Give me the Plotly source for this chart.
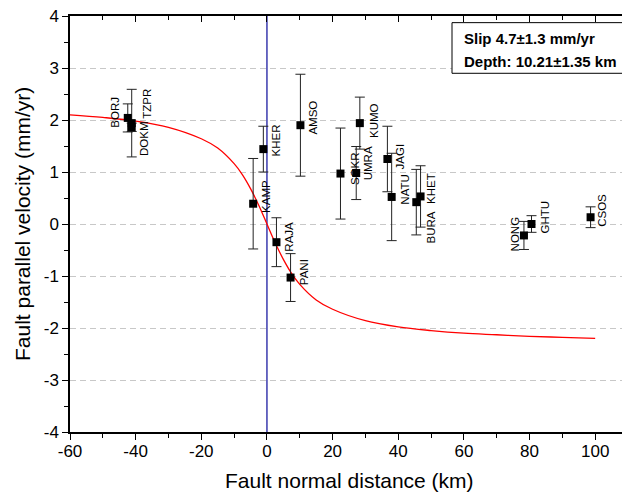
import plotly.graph_objects as go

# ---- data ----
stations = ["BORJ", "TZPR", "DOKM", "KAMP", "KHER", "RAJA", "PANI", "AMSO", "SOKR",
            "UMRA", "KUMO", "JAGI", "NATU", "BURA", "KHET", "NONG", "GHTU", "CSOS"]
distance = [-42.4, -41.2, -41.2, -4.2, -1.1, 2.9, 7.2, 10.2, 22.4,
            27.2, 28.3, 36.7, 38.0, 45.5, 46.8, 78.3, 80.6, 98.6]
velocity = [2.04, 1.94, 1.86, 0.39, 1.44, -0.35, -1.03, 1.90, 0.97,
            0.98, 1.94, 1.25, 0.52, 0.42, 0.53, -0.22, 0.00, 0.13]
vel_err = [0.27, 0.65, 0.08, 0.87, 0.44, 0.47, 0.46, 0.98, 0.875,
           0.51, 0.50, 0.63, 0.84, 0.63, 0.59, 0.27, 0.16, 0.20]

# model curve
model_x = [-60, -50, -40, -30, -20, -15, -10, -7.5, -5, -2.5, 0, 2.5, 5, 7.5, 10,
           15, 20, 30, 40, 50, 60, 70, 80, 90, 100]
model_v = [2.10, 2.05, 1.98, 1.86, 1.64, 1.46, 1.16, 0.95, 0.68, 0.36, 0.0, -0.36, -0.68,
           -0.95, -1.16, -1.46, -1.64, -1.86, -1.98, -2.05, -2.10, -2.13, -2.16, -2.18, -2.20]

fault_x = [0, 0]
fault_y = [-4, 4]

x_ticks = [-60, -40, -20, 0, 20, 40, 60, 80, 100]
x_tick_labels = ["-60", "-40", "-20", "0", "20", "40", "60", "80", "100"]
y_ticks = [-4, -3, -2, -1, 0, 1, 2, 3, 4]
y_tick_labels = ["-4", "-3", "-2", "-1", "0", "1", "2", "3", "4"]

x_title = "Fault normal distance (km)"
y_title = "Fault parallel velocity (mm/yr)"
box_lines = ["Slip 4.7\u00b11.3 mm/yr", "Depth: 10.21\u00b11.35 km"]

# label offsets (px): style only
label_off = {
    "BORJ": (-13, -6), "TZPR": (15, -19), "DOKM": (13, 11), "KAMP": (13, -7),
    "KHER": (13, -9), "RAJA": (13, -6), "PANI": (13, -5), "AMSO": (13, -8),
    "SOKR": (14, -5), "UMRA": (12, -10), "KUMO": (14, -3), "JAGI": (13, -3),
    "NATU": (13, -7), "BURA": (15, 25), "KHET": (11, -8), "NONG": (-9, -2),
    "GHTU": (13, -7), "CSOS": (12, -7),
}

FONT = "Liberation Sans, Arial, sans-serif"

fig = go.Figure()

fig.add_trace(go.Scatter(x=fault_x, y=fault_y, mode="lines",
                         line=dict(color="#3a3aae", width=1.5), hoverinfo="skip"))
fig.add_trace(go.Scatter(x=model_x, y=model_v, mode="lines", line_shape="spline",
                         line=dict(color="#ff0000", width=1.3), hoverinfo="skip"))
fig.add_trace(go.Scatter(
    x=distance, y=velocity, mode="markers",
    marker=dict(symbol="square", size=8, color="black"),
    error_y=dict(type="data", array=vel_err, visible=True, color="#222222",
                 thickness=1, width=5),
))

# dummy trace for mirrored top/right axes
fig.add_trace(go.Scatter(x=[None], y=[None], xaxis="x2", yaxis="y2",
                         showlegend=False, hoverinfo="skip"))

annotations = []
for n, xv, yv in zip(stations, distance, velocity):
    dx, dy = label_off[n]
    annotations.append(dict(x=xv, y=yv, xref="x", yref="y", text=n, showarrow=False,
                            textangle=-90, xshift=dx, yshift=-dy,
                            font=dict(family=FONT, size=11.5, color="black")))

# axis titles
annotations.append(dict(x=0.5, y=0, xref="paper", yref="paper", text=x_title,
                        showarrow=False, yanchor="middle", yshift=-48,
                        font=dict(family=FONT, size=21, color="black")))
annotations.append(dict(x=0, y=0.5, xref="paper", yref="paper", text=y_title,
                        showarrow=False, xanchor="center", textangle=-90, xshift=-48,
                        font=dict(family=FONT, size=21, color="black")))

# info box
fig.add_shape(type="rect", xref="paper", yref="paper", x0=0.6846, x1=0.9946,
              y0=0.8623, y1=0.984, line=dict(color="black", width=1),
              fillcolor="white", layer="above")
annotations.append(dict(x=0.702, y=0.946, xref="paper", yref="paper", xanchor="left",
                        yanchor="middle", text="<b>" + box_lines[0] + "</b>",
                        showarrow=False, font=dict(family=FONT, size=15, color="black")))
annotations.append(dict(x=0.702, y=0.891, xref="paper", yref="paper", xanchor="left",
                        yanchor="middle", text="<b>" + box_lines[1] + "</b>",
                        showarrow=False, font=dict(family=FONT, size=15, color="black")))

axis_common = dict(showline=True, linecolor="black", linewidth=1.5, zeroline=False,
                   automargin=False, ticklabeloverflow="allow")

fig.update_layout(
    width=622, height=488,
    margin=dict(l=62, r=2, t=8, b=64),
    paper_bgcolor="white", plot_bgcolor="white",
    showlegend=False,
    font=dict(family=FONT, color="black"),
    xaxis=dict(range=[-60, 110], tickvals=x_ticks, ticktext=x_tick_labels,
               ticks="outside", ticklen=6,
               tickwidth=1.2, tickcolor="black", showgrid=False,
               tickfont=dict(size=17), ticklabelstandoff=-3,
               minor=dict(dtick=10, tick0=0, ticks="outside", ticklen=4, tickcolor="black"),
               **axis_common),
    yaxis=dict(range=[-4, 4], tickvals=y_ticks, ticktext=y_tick_labels,
               ticks="outside", ticklen=6,
               tickwidth=1.2, tickcolor="black", showgrid=True, gridcolor="#c8c8c8",
               griddash="6px,4px", gridwidth=1,
               tickfont=dict(size=17),
               minor=dict(dtick=0.5, tick0=0, ticks="outside", ticklen=4, tickcolor="black"),
               **axis_common),
    xaxis2=dict(range=[-60, 110], overlaying="x", side="top", anchor="y",
                tickvals=x_ticks, ticks="inside", ticklen=6, tickcolor="black",
                showticklabels=False, showgrid=False,
                minor=dict(dtick=10, tick0=0, ticks="inside", ticklen=4, tickcolor="black"),
                **axis_common),
    yaxis2=dict(range=[-4, 4], overlaying="y", side="right", anchor="x",
                tickvals=y_ticks, ticks="inside", ticklen=6, tickcolor="black",
                showticklabels=False, showgrid=False,
                minor=dict(dtick=0.5, tick0=0, ticks="inside", ticklen=4, tickcolor="black"),
                **axis_common),
    annotations=annotations,
)

fig.write_html("out.html")
